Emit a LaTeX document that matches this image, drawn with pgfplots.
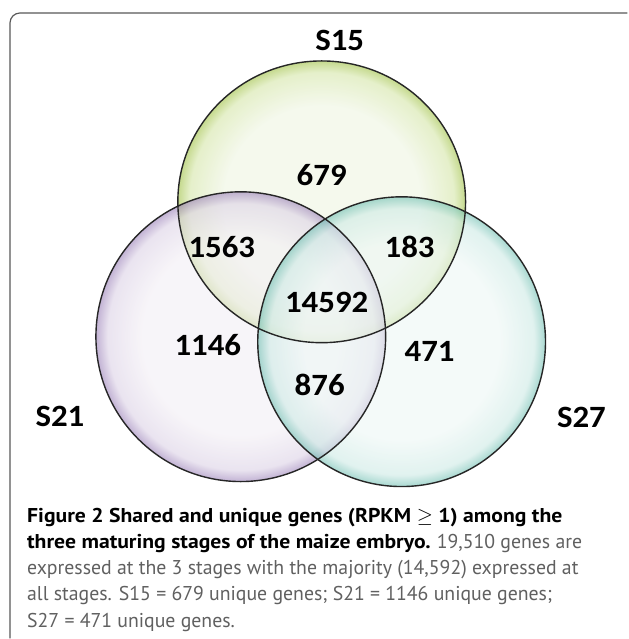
\documentclass[border=0pt]{standalone}
\usepackage{pgfplots}
\pgfplotsset{compat=1.18}
\usepackage{fontspec}
\setmainfont{Carlito}
\newfontfamily\labfont[FakeStretch=1.06]{Carlito}
\newfontfamily\capB[FakeStretch=1.085]{PT Sans}
\newfontfamily\capR[FakeStretch=0.99]{PT Sans}
\definecolor{gin}{HTML}{F2F7E8}
\definecolor{gmid}{HTML}{DDEBB9}
\definecolor{gout}{HTML}{B2CD68}
\definecolor{pin}{HTML}{F3EFF5}
\definecolor{pmid}{HTML}{DCD2E6}
\definecolor{pout}{HTML}{9A80B8}
\definecolor{tin}{HTML}{EDF7F5}
\definecolor{tmid}{HTML}{CDEAE5}
\definecolor{tout}{HTML}{6FBFB2}
\definecolor{edge}{HTML}{262626}
\definecolor{capgray}{HTML}{606060}
\pgfdeclareradialshading{gshade}{\pgfpoint{0bp}{0bp}}{color(0bp)=(gin); color(17bp)=(gin); color(23bp)=(gmid); color(25bp)=(gout); color(50bp)=(gout)}
\pgfdeclareradialshading{pshade}{\pgfpoint{0bp}{0bp}}{color(0bp)=(pin); color(17bp)=(pin); color(23bp)=(pmid); color(25bp)=(pout); color(50bp)=(pout)}
\pgfdeclareradialshading{tshade}{\pgfpoint{0bp}{0bp}}{color(0bp)=(tin); color(17bp)=(tin); color(23bp)=(tmid); color(25bp)=(tout); color(50bp)=(tout)}
\begin{document}
\begin{tikzpicture}
\begin{axis}[scale only axis, width=628pt, height=639pt,
  xmin=0, xmax=628, ymin=0, ymax=639, y dir=reverse, hide axis, clip=false]
\path[fill=white] (axis cs:0,0) rectangle (axis cs:628,639);
% rounded frame
\draw[line width=1.2pt, color=black!65, rounded corners=10pt] (axis cs:10,639) -- (axis cs:10,13) -- (axis cs:628,13);
% circle fills
\shade[shading=gshade, fill opacity=0.75] (axis cs:322,202) ellipse [x radius=144pt, y radius=141pt];
\shade[shading=pshade, fill opacity=0.6] (axis cs:241,337) ellipse [x radius=145pt, y radius=145pt];
\shade[shading=tshade, fill opacity=0.6] (axis cs:402,342) ellipse [x radius=144pt, y radius=145pt];
% outlines
\draw[edge, line width=1.4pt] (axis cs:322,202) ellipse [x radius=144pt, y radius=141pt];
\draw[edge, line width=1.4pt] (axis cs:241,337) ellipse [x radius=145pt, y radius=145pt];
\draw[edge, line width=1.4pt] (axis cs:402,342) ellipse [x radius=144pt, y radius=145pt];
% set names
\node[font=\labfont\bfseries\fontsize{31}{31}\selectfont] at (axis cs:340,40) {S15};
\node[font=\labfont\bfseries\fontsize{31}{31}\selectfont] at (axis cs:60,417) {S21};
\node[font=\labfont\bfseries\fontsize{31}{31}\selectfont] at (axis cs:582,418) {S27};
% counts
\node[font=\labfont\bfseries\fontsize{31}{31}\selectfont] at (axis cs:322,175) {679};
\node[font=\labfont\bfseries\fontsize{31}{31}\selectfont] at (axis cs:222,247) {1563};
\node[font=\labfont\bfseries\fontsize{31}{31}\selectfont] at (axis cs:410,247) {183};
\node[font=\labfont\bfseries\fontsize{31}{31}\selectfont] at (axis cs:327,303) {14592};
\node[font=\labfont\bfseries\fontsize{31}{31}\selectfont] at (axis cs:208,345) {1146};
\node[font=\labfont\bfseries\fontsize{31}{31}\selectfont] at (axis cs:430,352) {471};
\node[font=\labfont\bfseries\fontsize{31}{31}\selectfont] at (axis cs:320,385) {876};
% caption
\node[anchor=base west, inner sep=0pt, font=\fontsize{20}{26}\selectfont, text=capgray] at (axis cs:27,523) {\textcolor{black}{\capB\bfseries Figure 2 Shared and unique genes (RPKM $\geq$ 1) among the}};
\node[anchor=base west, inner sep=0pt, font=\fontsize{20}{26}\selectfont, text=capgray] at (axis cs:27,549) {\textcolor{black}{\capB\bfseries three maturing stages of the maize embryo.} \capR 19,510 genes are};
\node[anchor=base west, inner sep=0pt, font=\capR\fontsize{20}{26}\selectfont, text=capgray] at (axis cs:27,575) {expressed at the 3 stages with the majority (14,592) expressed at};
\node[anchor=base west, inner sep=0pt, font=\capR\fontsize{20}{26}\selectfont, text=capgray] at (axis cs:27,601) {all stages. S15 = 679 unique genes; S21 = 1146 unique genes;};
\node[anchor=base west, inner sep=0pt, font=\capR\fontsize{20}{26}\selectfont, text=capgray] at (axis cs:27,628) {S27 = 471 unique genes.};
\end{axis}
\end{tikzpicture}
\end{document}
